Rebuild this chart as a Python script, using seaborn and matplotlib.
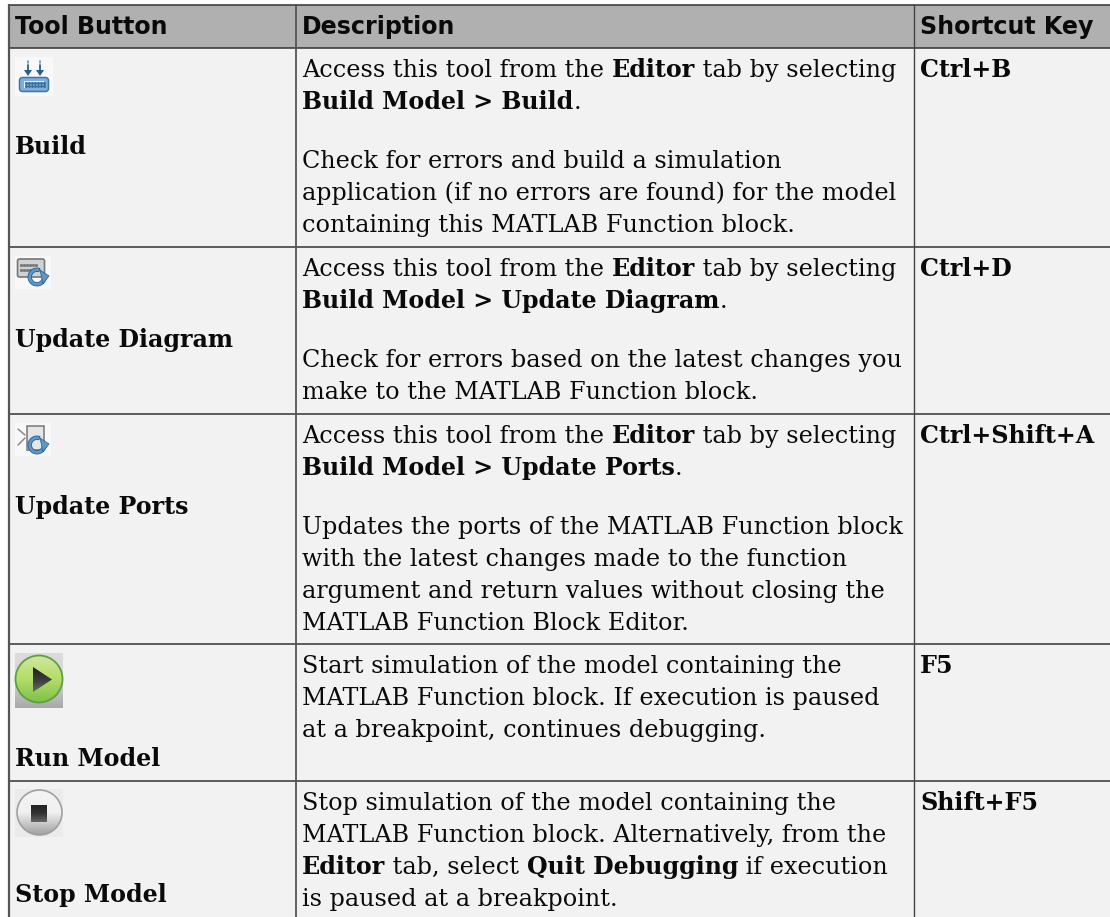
import numpy as np
import matplotlib
matplotlib.use('Agg')
import matplotlib.pyplot as plt
from matplotlib.colors import LinearSegmentedColormap
from matplotlib.patches import Rectangle, Circle, FancyBboxPatch, Polygon, Wedge
import seaborn as sns

headers = ['Tool Button', 'Description', 'Shortcut Key']
tools = ['Build', 'Update Diagram', 'Update Ports', 'Run Model', 'Stop Model']
shortcuts = ['Ctrl+B', 'Ctrl+D', 'Ctrl+Shift+A', 'F5', 'Shift+F5']

# text between ** is bold, None is a blank paragraph gap
descriptions = [
    ['Access this tool from the **Editor** tab by selecting',
     '**Build Model > Build**.',
     None,
     'Check for errors and build a simulation',
     'application (if no errors are found) for the model',
     'containing this MATLAB Function block.'],
    ['Access this tool from the **Editor** tab by selecting',
     '**Build Model > Update Diagram**.',
     None,
     'Check for errors based on the latest changes you',
     'make to the MATLAB Function block.'],
    ['Access this tool from the **Editor** tab by selecting',
     '**Build Model > Update Ports**.',
     None,
     'Updates the ports of the MATLAB Function block',
     'with the latest changes made to the function',
     'argument and return values without closing the',
     'MATLAB Function Block Editor.'],
    ['Start simulation of the model containing the',
     'MATLAB Function block. If execution is paused',
     'at a breakpoint, continues debugging.'],
    ['Stop simulation of the model containing the',
     'MATLAB Function block. Alternatively, from the',
     '**Editor** tab, select **Quit Debugging** if execution',
     'is paused at a breakpoint.'],
]

row_lines = [5, 48, 247, 414, 644, 781]
label_baselines = [154, 347, 514, 766, 902]
W, H = 1110, 917
FS_BOLD = 23.8 * 0.72
FS_REG = 23.92 * 0.72
LINE_H = 32

sns.set_theme(style='white', rc={'font.family': 'DejaVu Serif'})
fig = plt.figure(figsize=(W / 100, H / 100), dpi=100, facecolor='white')
ax = fig.add_axes([0, 0, 1, 1])
ax.set_xlim(0, W)
ax.set_ylim(H, 0)
ax.axis('off')
sns.despine(ax=ax, left=True, bottom=True)

ax.add_patch(Rectangle((9, 5), W, row_lines[1] - 5, fc='#b0b0b0', ec='none'))
ax.add_patch(Rectangle((9, 48), W, H, fc='#f2f2f2', ec='none'))

renderer = fig.canvas.get_renderer()


def put(x, y, s, weight='normal', family='DejaVu Serif'):
    fs = FS_BOLD if weight == 'bold' else FS_REG
    t = ax.text(x, y, s, fontsize=fs, fontweight=weight, family=family, color='#0a0a0a',
                va='baseline', ha='left')
    # advance width, spaces included
    w = t.get_window_extent(renderer).width
    if s.endswith(' ') or s.startswith(' '):
        t2 = ax.text(0, 0, 'x' + s + 'x', fontsize=fs, fontweight=weight, family=family)
        t3 = ax.text(0, 0, 'xx', fontsize=fs, fontweight=weight, family=family)
        w = t2.get_window_extent(renderer).width - t3.get_window_extent(renderer).width
        t2.remove()
        t3.remove()
    return w


def rich(x, y, line):
    for i, part in enumerate(line.split('**')):
        if part:
            x += put(x, y, part, weight='bold' if i % 2 else 'normal')


for x, name in zip([15, 302, 920], headers):
    put(x, 34, name, weight='bold', family='DejaVu Sans')

for r, lines in enumerate(descriptions):
    y = row_lines[r + 1] + 29
    for line in lines:
        if line is None:
            y += LINE_H - 5
            continue
        rich(302, y, line)
        y += LINE_H
    put(15, label_baselines[r], tools[r], weight='bold')
    put(920, row_lines[r + 1] + 29, shortcuts[r], weight='bold')

# grid lines
for y in row_lines:
    ax.plot([8, W], [y, y], color='#333333', lw=1.1, solid_capstyle='butt')
ax.plot([9, 9], [4, H], color='#555555', lw=1.6, solid_capstyle='butt')
ax.plot([296, 296], [4, H], color='#555555', lw=1.3, solid_capstyle='butt')
ax.plot([914, 914], [4, H], color='#444444', lw=1, solid_capstyle='butt')


def gradient(extent, stops, clip, z=3):
    cmap = LinearSegmentedColormap.from_list('g', stops)
    g = np.linspace(0, 1, 64)[:, None]
    im = ax.imshow(g, extent=extent, aspect='auto', zorder=z, origin='upper', cmap=cmap)
    ax.add_patch(clip)
    clip.set_visible(False)
    im.set_clip_path(clip)


# Build icon
ax.add_patch(Rectangle((15, 57), 38, 39, fc='#f8f8f8', ec='none', zorder=2))
for ax_x in (28, 40):
    ax.plot([ax_x, ax_x], [61, 63], color='#6f93b5', lw=1.2, zorder=3)
    ax.plot([ax_x, ax_x], [65, 72], color='#2a5c8a', lw=1.3, zorder=3)
    ax.add_patch(Polygon([[ax_x - 4, 70], [ax_x + 4, 70], [ax_x, 76]], fc='#2a5c8a', ec='none', zorder=3))
ax.add_patch(FancyBboxPatch((19.5, 77.5), 29, 14, boxstyle='round,pad=0,rounding_size=3',
                            fc='#7fb0dc', ec='#3f76a8', lw=1.1, zorder=3))
ax.add_patch(Rectangle((24, 80.5), 20, 7, fc='#e4eef7', ec='none', zorder=4))
for dy in (82.5, 85.5):
    ax.plot(np.arange(25.5, 44, 3), [dy] * 7, ls='none', marker='s', ms=1.1, color='#3a6f9f', zorder=5)

# Update Diagram and Update Ports icons
for top in (256, 423):
    ax.add_patch(Rectangle((15, top), 36, 33, fc='#f8f8f8', ec='none', zorder=2))
ax.add_patch(FancyBboxPatch((17.5, 259), 27, 18, boxstyle='round,pad=0,rounding_size=2',
                            fc='#cfd2d5', ec='#777777', lw=1.2, zorder=3))
for dy in (265, 270):
    ax.plot(np.arange(21, 39, 3), [dy] * 6, ls='none', marker='s', ms=1.1, color='#777777', zorder=4)
ax.add_patch(Wedge((37, 277), 9, -10, 290, width=3.5, fc='#5b97c8', ec='#2a5c8a', lw=0.6, zorder=5))
ax.add_patch(Polygon([[40, 270], [49, 276], [43, 284]], fc='#5b97c8', ec='#2a5c8a', lw=0.5, zorder=5))

ax.plot([18, 25], [429, 435], color='#8a8a8a', lw=1.1, zorder=3)
ax.plot([18, 25], [445, 438], color='#8a8a8a', lw=1.1, zorder=3)
ax.add_patch(Rectangle((27, 425.5), 17, 24, fc='#e4e6e8', ec='#777777', lw=1.1, zorder=3))
ax.add_patch(Wedge((37, 445), 9, -10, 290, width=3.5, fc='#5b97c8', ec='#2a5c8a', lw=0.6, zorder=5))
ax.add_patch(Polygon([[40, 438], [49, 444], [43, 452]], fc='#5b97c8', ec='#2a5c8a', lw=0.5, zorder=5))

# Run icon
gradient((15, 63, 708, 653), ['#dcdcdc', '#d4d4d4', '#a9a9a9'], Rectangle((15, 653), 48, 55))
gradient((15.5, 62.5, 703, 655), ['#cfe8a0', '#b4dd68', '#7cc04a'], Circle((39, 679), 23.5), z=4)
ax.add_patch(Circle((39, 679), 23.5, fc='none', ec='#5f9f3f', lw=1.3, zorder=5))
gradient((33, 52, 692, 667), ['#1f1f1f', '#3a3a3a', '#6a6a6a'],
         Polygon([[33, 667], [33, 692], [52, 679.5]]), z=6)

# Stop icon
ax.add_patch(Rectangle((15, 789), 48, 48, fc='#ebebeb', ec='none', zorder=2))
gradient((17, 62, 835, 790), ['#f4f4f4', '#f0f0f0', '#a0a0a0'], Circle((39.5, 812.5), 22.5))
ax.add_patch(Circle((39.5, 812.5), 22.5, fc='none', ec='#a0a0a0', lw=1.2, zorder=4))
gradient((31, 47, 822, 805), ['#222222', '#333333', '#666666'], Rectangle((31, 805), 16, 17), z=5)

ax.set_xlim(0, W)
ax.set_ylim(H, 0)
fig.savefig('out.png', dpi=100)
